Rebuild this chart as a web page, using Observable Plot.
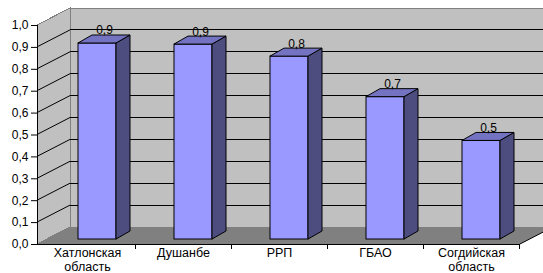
<!DOCTYPE html>
<html><head><meta charset="utf-8">
<script src="https://cdn.jsdelivr.net/npm/d3@7"></script>
<script src="https://cdn.jsdelivr.net/npm/@observablehq/plot@0.6"></script>
<style>body{margin:0;background:#fff} svg{display:block}</style>
</head><body><div id="chart"></div>
<script>
const categories = ["Хатлонская\nобласть", "Душанбе", "РРП", "ГБАО", "Согдийская\nобласть"];
const values = [0.895, 0.89, 0.835, 0.65, 0.45];
const valueLabels = ["0,9", "0,9", "0,8", "0,7", "0,5"];
const yTicks = [0, 0.1, 0.2, 0.3, 0.4, 0.5, 0.6, 0.7, 0.8, 0.9, 1.0];
const yTickLabels = ["0,0", "0,1", "0,2", "0,3", "0,4", "0,5", "0,6", "0,7", "0,8", "0,9", "1,0"];

const data = categories.map((c, i) => ({category: c, value: values[i], label: valueLabels[i]}));

// 3D projection offsets (pixels)
const DX = 33, DY = 17;   // floor depth
const BX = 10, BY = 5;    // bar front face offset
const BDX = 14, BDY = 8;  // bar depth
const INSET = 29;

const FONT = "Liberation Sans, Arial, sans-serif";

function poly(g, pts, fill, stroke, sw = 1) {
  g.append("path")
    .attr("d", "M" + pts.map(p => p.join(",")).join("L") + "Z")
    .attr("fill", fill)
    .attr("stroke", stroke || "none")
    .attr("stroke-width", sw)
    .attr("stroke-linejoin", "miter");
}
function line(g, a, b, stroke) {
  g.append("line").attr("x1", a[0]).attr("y1", a[1]).attr("x2", b[0]).attr("y2", b[1])
    .attr("stroke", stroke).attr("stroke-width", 1);
}

function walls(index, scales, vals, dims) {
  const y = scales.y;
  const x0 = dims.marginLeft, x1 = dims.width - dims.marginRight;
  const g = d3.create("svg:g").attr("shape-rendering", "crispEdges");
  // back wall
  poly(g, [[x0 + DX, y(1) - DY], [x1 + DX, y(1) - DY], [x1 + DX, y(0) - DY], [x0 + DX, y(0) - DY]], "#C0C0C0", "#808080");
  // side wall
  poly(g, [[x0, y(0)], [x0, y(1)], [x0 + DX, y(1) - DY], [x0 + DX, y(0) - DY]], "#C0C0C0", "#808080");
  // floor
  poly(g, [[x0, y(0)], [x1, y(0)], [x1 + DX, y(0) - DY], [x0 + DX, y(0) - DY]], "#808080", null);
  // gridlines on back wall
  for (const v of yTicks) {
    if (v === 0 || v === 1) continue;
    line(g, [x0 + DX, y(v) - DY], [x1 + DX, y(v) - DY], "#000");
  }
  // gridlines on side wall
  for (const v of yTicks) {
    if (v === 0 || v === 1) continue;
    g.append("line").attr("x1", x0).attr("y1", y(v)).attr("x2", x0 + DX).attr("y2", y(v) - DY)
      .attr("stroke", "#000").attr("shape-rendering", "auto");
  }
  return g.node();
}

function barSides(index, scales, vals, dims) {
  const x = scales.x, y = scales.y;
  const bw = x.bandwidth();
  const g = d3.create("svg:g");
  data.forEach(d => {
    const xl = x(d.category) + INSET + BX, xr = x(d.category) + bw - INSET + BX;
    const yt = y(d.value) - BY, yb = y(0) - BY;
    poly(g, [[xr, yt], [xr + BDX, yt - BDY], [xr + BDX, yb - BDY], [xr, yb]], "#4D4D80", "#000");
    poly(g, [[xl, yt], [xr, yt], [xr + BDX, yt - BDY], [xl + BDX, yt - BDY]], "#7373C2", "#000");
  });
  return g.node();
}

function frontAxes(index, scales, vals, dims) {
  const x = scales.x, y = scales.y;
  const x0 = dims.marginLeft, x1 = dims.width - dims.marginRight;
  const g = d3.create("svg:g").attr("shape-rendering", "crispEdges");
  line(g, [x0, y(1)], [x0, y(0)], "#000");
  line(g, [x0, y(0)], [x1, y(0)], "#000");
  g.append("line").attr("x1", x1).attr("y1", y(0)).attr("x2", x1 + DX).attr("y2", y(0) - DY)
    .attr("stroke", "#000").attr("shape-rendering", "auto");
  categories.forEach(c => {
    const xt = x(c) + x.bandwidth();
    line(g, [xt, y(0)], [xt, y(0) + 5], "#000");
  });
  return g.node();
}

const chart = Plot.plot({
  width: 543,
  height: 273,
  marginLeft: 37,
  marginRight: 23,
  marginTop: 25,
  marginBottom: 29,
  style: {fontFamily: FONT, background: "#fff"},
  x: {type: "band", domain: categories, padding: 0, axis: null},
  y: {domain: [0, 1], axis: null},
  marks: [
    walls,
    Plot.barY(data, {x: "category", y: "value", fill: "#9999FF", stroke: "#000", strokeWidth: 1,
      insetLeft: INSET, insetRight: INSET, dx: BX, dy: -BY}),
    barSides,
    frontAxes,
    Plot.axisY({ticks: yTicks, tickFormat: d => yTickLabels[yTicks.indexOf(d)], tickSize: 6,
      tickPadding: 3, fontSize: 12, stroke: "#000", color: "#000", label: null}),
    Plot.text(data, {x: "category", y: "value", text: "label", dx: BX + BDX / 2, dy: -(BY + BDY + 1),
      lineAnchor: "bottom", fontSize: 12, fill: "#000"}),
    Plot.text(data, {x: "category", y: 0, text: "category", dy: 3, lineAnchor: "top",
      lineHeight: 1.08, fontSize: 12.5, fill: "#000"})
  ]
});
document.getElementById("chart").append(chart);
</script>
</body></html>
